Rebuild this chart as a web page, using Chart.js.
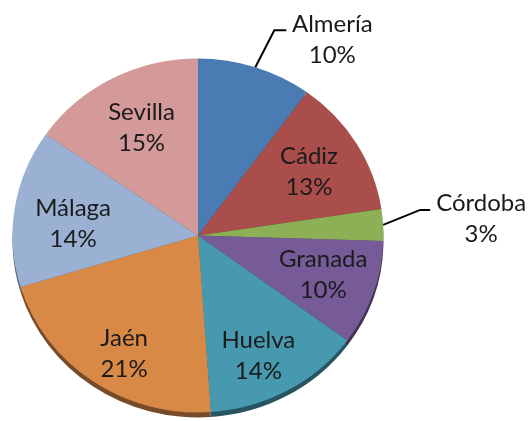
<!DOCTYPE html>
<html>
<head>
<meta charset="utf-8">
<script src="https://cdn.jsdelivr.net/npm/chart.js@4/dist/chart.umd.min.js"></script>
<style>
html,body{margin:0;padding:0;background:#fff;}
#wrap{width:528px;height:421px;}
</style>
</head>
<body>
<div id="wrap"><canvas id="c" width="528" height="421"></canvas></div>
<script>
// ---- data ----
const provinces = ['Almería','Cádiz','Córdoba','Granada','Huelva','Jaén','Málaga','Sevilla'];
const shares = [10.0, 12.6, 2.9, 9.6, 13.8, 21.4, 14.4, 15.3];
const sliceColors = ['#4A7BB2','#AA4E4B','#8DAF55','#765B98','#4699AF','#D98946','#9AB1D3','#D49999'];

// ---- style ----
const SY = 0.954;          // vertical squash for the tilted look
const RIM = 5;             // 3D rim thickness
const FONT = '24px Lato, "Open Sans", sans-serif';
const LINE_GAP = 31;
// label placement: radial factor + small nudges (px); outside labels use leader lines
const labelStyle = [
  {outside:true, elbow:[19,-37], tail:12, text:[46,9.5]},
  {k:0.70, dx:0, dy:1},
  {outside:true, elbow:[37,-15], tail:10, text:[51,8.5]},
  {k:0.72, dx:-1, dy:-2},
  {k:0.72, dx:-4, dy:9},
  {k:0.74, dx:4, dy:10},
  {k:0.72, dx:7, dy:8},
  {k:0.67, dx:1, dy:-3}
];

function darker(hex, f){
  const n = parseInt(hex.slice(1),16);
  const r = Math.round(((n>>16)&255)*f), g = Math.round(((n>>8)&255)*f), b = Math.round((n&255)*f);
  return 'rgb('+r+','+g+','+b+')';
}

const tiltPlugin = {
  id:'tilt',
  beforeDatasetsDraw(chart){
    const ctx = chart.ctx;
    const meta = chart.getDatasetMeta(0);
    const el0 = meta.data[0];
    const cx = el0.x, cy = el0.y;
    ctx.save();
    ctx.translate(cx, cy);
    ctx.scale(1, SY);
    ctx.translate(-cx, -cy);
    // rim (side of the disc), drawn from the library's arc geometry
    meta.data.forEach((el, i) => {
      ctx.save();
      ctx.translate(0, RIM / SY);
      ctx.beginPath();
      ctx.moveTo(el.x, el.y);
      ctx.arc(el.x, el.y, el.outerRadius, el.startAngle, el.endAngle);
      ctx.closePath();
      ctx.fillStyle = darker(sliceColors[i], 0.55);
      ctx.fill();
      ctx.restore();
    });
  },
  afterDatasetsDraw(chart){
    chart.ctx.restore();
  }
};

const labelPlugin = {
  id:'sliceLabels',
  afterDraw(chart){
    const ctx = chart.ctx;
    const meta = chart.getDatasetMeta(0);
    const total = shares.reduce((a,b)=>a+b,0);
    ctx.save();
    ctx.font = FONT;
    ctx.fillStyle = '#1b1b1b';
    ctx.textAlign = 'center';
    ctx.textBaseline = 'middle';
    meta.data.forEach((el, i) => {
      const mid = (el.startAngle + el.endAngle) / 2;
      const r = el.outerRadius;
      const pct = Math.round(shares[i] / total * 100) + '%';
      const st = labelStyle[i];
      let tx, ty;
      if (st.outside){
        const ex = el.x + Math.cos(mid) * r;
        const ey = el.y + Math.sin(mid) * r * SY;
        const bx = ex + st.elbow[0], by = ey + st.elbow[1];
        ctx.beginPath();
        ctx.moveTo(ex, ey);
        ctx.lineTo(bx, by);
        ctx.lineTo(bx + st.tail, by);
        ctx.strokeStyle = '#000';
        ctx.lineWidth = 2;
        ctx.stroke();
        tx = bx + st.tail + st.text[0];
        ty = by + st.text[1];
      } else {
        tx = el.x + Math.cos(mid) * r * st.k + st.dx;
        ty = el.y + Math.sin(mid) * r * st.k * SY + st.dy;
      }
      ctx.fillText(provinces[i], tx, ty - LINE_GAP/2);
      ctx.fillText(pct, tx, ty + LINE_GAP/2);
    });
    ctx.restore();
  }
};

new Chart(document.getElementById('c'), {
  type:'pie',
  data:{
    labels: provinces,
    datasets:[{
      data: shares,
      backgroundColor: sliceColors,
      borderWidth: 0
    }]
  },
  options:{
    responsive:false,
    animation:false,
    layout:{padding:{left:12, right:144, top:50, bottom:0}},
    plugins:{legend:{display:false}, tooltip:{enabled:false}}
  },
  plugins:[tiltPlugin, labelPlugin]
});
</script>
</body>
</html>
